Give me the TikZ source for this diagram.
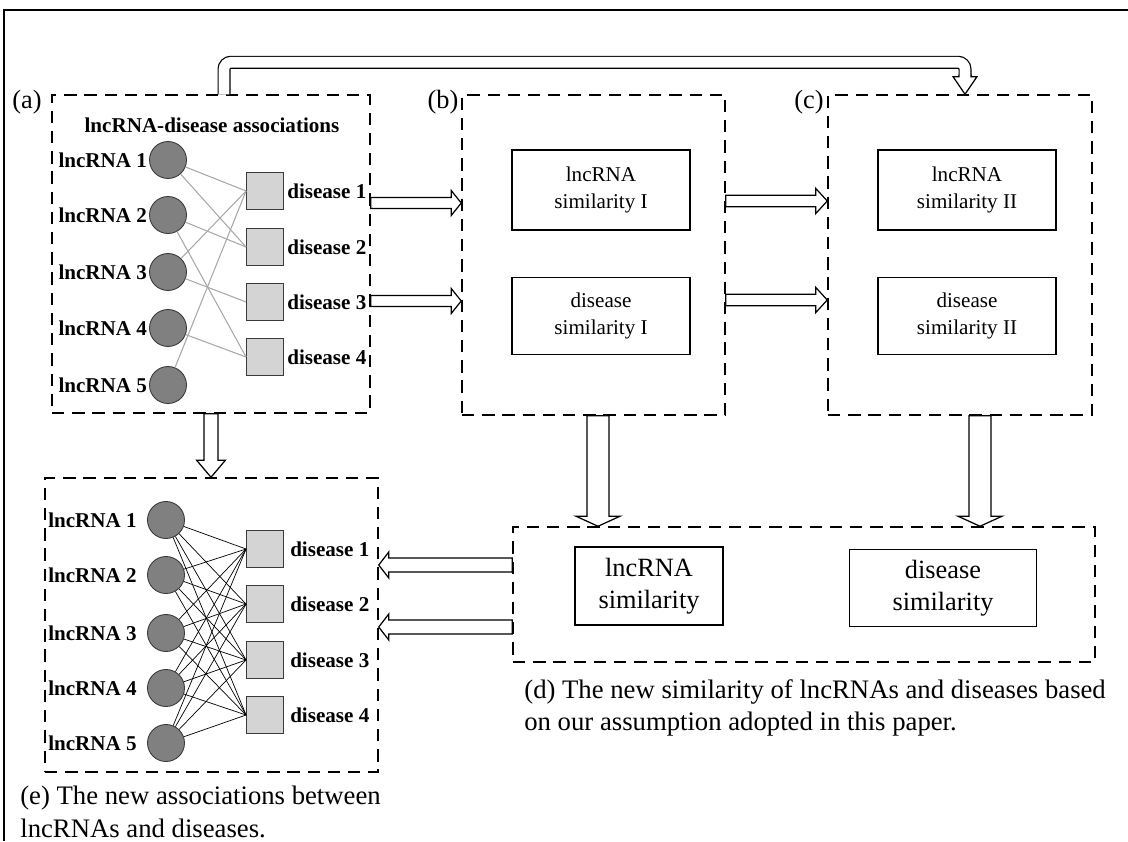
\documentclass[tikz,border=0pt]{standalone}
\usepackage{fontspec}
\setmainfont{Liberation Serif}
\usetikzlibrary{calc,fit,positioning}
\definecolor{lncfill}{HTML}{808080}
\definecolor{disfill}{HTML}{D4D4D4}
\definecolor{linkgray}{HTML}{A8A8A8}
\definecolor{nodeline}{HTML}{3A3A3A}

\tikzset{
  panel/.style={draw, line width=0.85pt, dash pattern=on 7pt off 4.5pt, inner sep=0pt},
  simbox/.style={draw, line width=0.7pt, align=center, inner sep=0pt},
  lnc/.style={circle, draw=nodeline, fill=lncfill, line width=0.5pt, minimum size=0.74cm, inner sep=0pt},
  dis/.style={rectangle, draw=nodeline, fill=disfill, line width=0.5pt, minimum size=0.74cm, inner sep=0pt},
  lab/.style={font=\bfseries\fontsize{12}{14}\selectfont, inner sep=1pt},
  panellabel/.style={font=\fontsize{15}{18}\selectfont, inner sep=0pt},
  captxt/.style={font=\fontsize{15.2}{18.5}\selectfont, align=left, inner sep=0pt},
  hollow/.style args={#1/#2/#3}{draw, line width=0.7pt, fill=white, line join=miter,
    to path={let \p1=($(\tikztotarget)!#3!(\tikztostart)$) in
      ($(\tikztostart)!#1!-90:(\tikztotarget)$) -- ($(\p1)!#1!-90:(\tikztotarget)$)
      -- ($(\p1)!#2!-90:(\tikztotarget)$) -- (\tikztotarget)
      -- ($(\p1)!#2!90:(\tikztotarget)$) -- ($(\p1)!#1!90:(\tikztotarget)$)
      -- ($(\tikztostart)!#1!90:(\tikztotarget)$) -- cycle}},
}

\begin{document}
\begin{tikzpicture}[x=0.02cm, y=-0.02cm]
  \useasboundingbox (0,0) rectangle (1128,841);

  % Frame
  \draw[line width=0.6pt] (4,841) -- (4,10) -- (1128,10);

  % Panels
  \node[panel, fit={(52,95) (370,413)}] (boxa) {};
  \node[panel, fit={(462,95) (725,415)}] (boxb) {};
  \node[panel, fit={(828,95) (1092,415)}] (boxc) {};
  \node[panel, fit={(513,527) (1095,662)}] (boxd) {};
  \node[panel, fit={(45,478) (378,772)}] (boxe) {};
  \node[panellabel] (taga) at (27,102) {(a)};
  \node[panellabel] (tagb) at (443,102) {(b)};
  \node[panellabel] (tagc) at (809,102) {(c)};

  % (a) known associations
  \node[lab] (atitle) at (212,125) {lncRNA-disease associations};
  \foreach \i/\y in {1/160,2/215,3/272,4/328,5/385} {
    \node[lnc] (al\i) at (168,\y) {};
    \node[lab, left=0pt of al\i] (alt\i) {lncRNA \i};
  }
  \foreach \i/\y in {1/191,2/247,3/302,4/357} {
    \node[dis] (ad\i) at (265,\y) {};
    \node[lab, right=0.7pt of ad\i] (adt\i) {disease \i};
  }
  \foreach \l/\d in {1/1,1/2,2/2,2/4,3/1,3/3,4/4,5/1}
    \draw[linkgray, line width=0.6pt] (al\l) -- (ad\d.west);

  % Similarity boxes
  \node[simbox, minimum width=3.56cm, minimum height=1.6cm, font=\fontsize{12}{15}\selectfont] (simb1) at (601,190) {lncRNA\\similarity I};
  \node[simbox, minimum width=3.56cm, minimum height=1.54cm, font=\fontsize{12}{15}\selectfont] (simb2) at (601,316) {disease\\similarity I};
  \node[simbox, minimum width=3.56cm, minimum height=1.6cm, font=\fontsize{12}{15}\selectfont] (simc1) at (967,190) {lncRNA\\similarity II};
  \node[simbox, minimum width=3.56cm, minimum height=1.54cm, font=\fontsize{12}{15}\selectfont] (simc2) at (967,316) {disease\\similarity II};
  \node[simbox, minimum width=2.96cm, minimum height=1.56cm, font=\fontsize{15}{18.5}\selectfont] (simd1) at (649,586) {lncRNA\\similarity};
  \node[simbox, minimum width=3.74cm, minimum height=1.54cm, font=\fontsize{15}{18.5}\selectfont] (simd2) at (943,588) {disease\\similarity};

  % (e) new associations
  \foreach \i/\y in {1/520,2/575,3/633,4/688,5/743} {
    \node[lnc] (el\i) at (166,\y) {};
    \node[lab, left=4.7pt of el\i] (elt\i) {lncRNA \i};
  }
  \foreach \i/\y in {1/549,2/604,3/660,4/715} {
    \node[dis] (ed\i) at (265,\y) {};
    \node[lab, right=2.4pt of ed\i] (edt\i) {disease \i};
  }
  \foreach \l in {1,...,5}
    \foreach \d in {1,...,4}
      \draw[line width=0.4pt] (el\l) -- (ed\d.west);

  % Captions
  \node[captxt, anchor=north west] (capd) at (524,679) {(d) The new similarity of lncRNAs and diseases based\\on our assumption adopted in this paper.};
  \node[captxt, anchor=north west] (cape) at (20,786) {(e) The new associations between\\lncRNAs and diseases.};

  % Block arrows
  \draw[hollow=3.1pt/7.1pt/5.7pt] (boxa.east |- 0,203) to (boxb.west |- 0,203);
  \draw[hollow=3.1pt/7.1pt/5.7pt] (boxa.east |- 0,301) to (boxb.west |- 0,301);
  \draw[hollow=3.3pt/7.1pt/6.5pt] (boxb.east |- 0,201) to (boxc.west |- 0,201);
  \draw[hollow=3.3pt/7.1pt/6.5pt] (boxb.east |- 0,300) to (boxc.west |- 0,300);
  \draw[hollow=6.3pt/12.5pt/5.7pt] (boxb.south -| 598,0) to (boxd.north -| 598,0);
  \draw[hollow=6.3pt/12.5pt/5.7pt] (boxc.south -| 980,0) to (boxd.north -| 980,0);
  \draw[hollow=4pt/8.2pt/9.7pt] (boxa.south) to (boxa.south |- boxe.north);
  \draw[hollow=4pt/7.4pt/5.7pt] (boxd.west |- 0,565) to (boxe.east |- 0,565);
  \draw[hollow=4pt/7.4pt/5.7pt] (boxd.west |- 0,627) to (boxe.east |- 0,627);

  % Top arrow from (a) to (c)
  \coordinate (toptail) at (boxa.north -| 224,0);
  \coordinate (toptip) at (boxc.north -| 965,0);
  \draw[hollow=3.4pt/6.8pt/10pt] ($(toptip)+(0,-19)$) to (toptip);
  \draw[line width=0.7pt, double, double distance=6pt, rounded corners=4pt]
    (toptail) -- ++(0,-32) -| ($(toptip)+(0,-17.5)$);
\end{tikzpicture}
\end{document}
